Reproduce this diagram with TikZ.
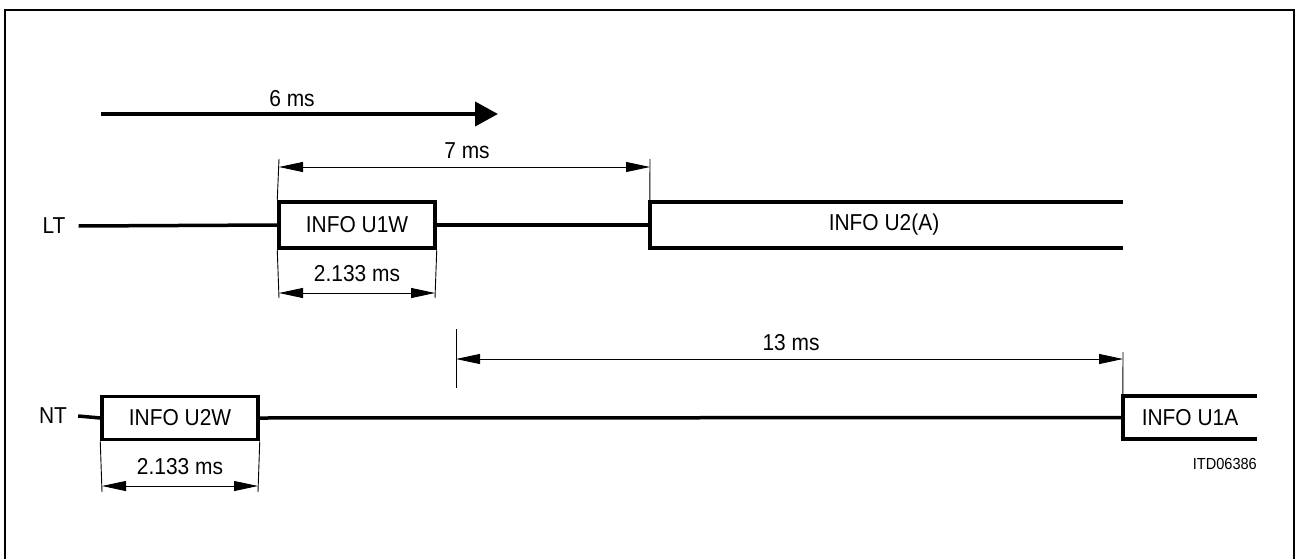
\documentclass[tikz,border=0pt]{standalone}
\usepackage{fontspec}
\setmainfont{Liberation Sans}[FakeStretch=0.91]
\usetikzlibrary{arrows.meta}
\begin{document}
\begin{tikzpicture}[x=1pt,y=-1pt,
  lab/.style={font=\fontsize{23}{26}\selectfont, inner sep=0pt},
  small/.style={font=\fontsize{16}{18}\selectfont, inner sep=0pt},
  sig/.style={line width=3.5pt},
  infobox/.style={draw, line width=3.5pt, inner sep=0pt, font=\fontsize{23}{26}\selectfont},
  openbox/.style={inner sep=0pt, font=\fontsize{23}{26}\selectfont},
  dim/.style={line width=0.9pt, {Triangle[length=24pt,width=10pt]}-{Triangle[length=24pt,width=10pt]}},
  ext/.style={line width=0.9pt},
  bigarrow/.style={line width=4pt, -{Triangle[length=23pt,width=24pt]}}
]
\useasboundingbox (0,0) rectangle (1297,559);
% frame (open at bottom)
\draw[line width=2.5pt] (5,559) -- (5,10) -- (1294,10) -- (1294,559);

% 6 ms arrow
\coordinate (s6a) at (101,114);
\coordinate (s6b) at (498,114);
\draw[bigarrow] (s6a) -- (s6b);
\node[lab] (t6) at (292,99) {6 ms};

% LT row
\node[lab, inner xsep=13pt] (LT) at (54,226) {LT};
\node[infobox, minimum width=156pt, minimum height=46pt] (U1W) at (357,225) {INFO U1W};
\node[openbox, minimum width=473pt, minimum height=46pt] (U2A) at (886.5,225) {\hspace*{-5pt}INFO U2(A)};
\draw[sig] (U2A.north east) -- (U2A.north west) -- (U2A.south west) -- (U2A.south east);
\draw[sig] (LT.east) -- (U1W.west);
\draw[sig] (U1W.east) -- (U2A.west);

% 7 ms
\coordinate (e7a) at (279,159);
\coordinate (e7b) at (650,159);
\draw[ext] (U1W.north west) -- (e7a);
\draw[ext] (U2A.north west) -- (e7b);
\draw[dim] (279,167) -- (650,167);
\node[lab] (t7) at (467,151) {7 ms};

% 2.133 ms LT
\coordinate (e2a) at (279,298);
\coordinate (e2b) at (435,298);
\draw[ext] (U1W.south west) -- (e2a);
\draw[ext] (U1W.south east) -- (e2b);
\draw[dim] (279,293) -- (435,293);
\node[lab] (t2a) at (357,274) {2.133 ms};

% NT row
\node[lab, inner xsep=11pt] (NT) at (53,416) {NT};
\node[infobox, minimum width=156pt, minimum height=43pt] (U2W) at (180,418) {INFO U2W};
\node[openbox, minimum width=134pt, minimum height=43pt] (U1A) at (1190,417.5) {INFO U1A};
\draw[sig] (U1A.north east) -- (U1A.north west) -- (U1A.south west) -- (U1A.south east);
\draw[sig] (NT.east) -- (U2W.west);
\draw[sig] (U2W.east) -- (U1A.west);

% 13 ms
\coordinate (e13a) at (456,329);
\coordinate (e13b) at (456,388);
\coordinate (e13c) at (1123,352);
\draw[ext] (e13a) -- (e13b);
\draw[ext] (U1A.north west) -- (e13c);
\draw[dim] (456,359) -- (1123,359);
\node[lab] (t13) at (791,343) {13 ms};

% 2.133 ms NT
\coordinate (e2c) at (102,492);
\coordinate (e2d) at (258,492);
\draw[ext] (U2W.south west) -- (e2c);
\draw[ext] (U2W.south east) -- (e2d);
\draw[dim] (102,486) -- (258,486);
\node[lab] (t2b) at (180,467) {2.133 ms};

\node[small, anchor=east] (itd) at (1257,464) {ITD06386};
\end{tikzpicture}
\end{document}
